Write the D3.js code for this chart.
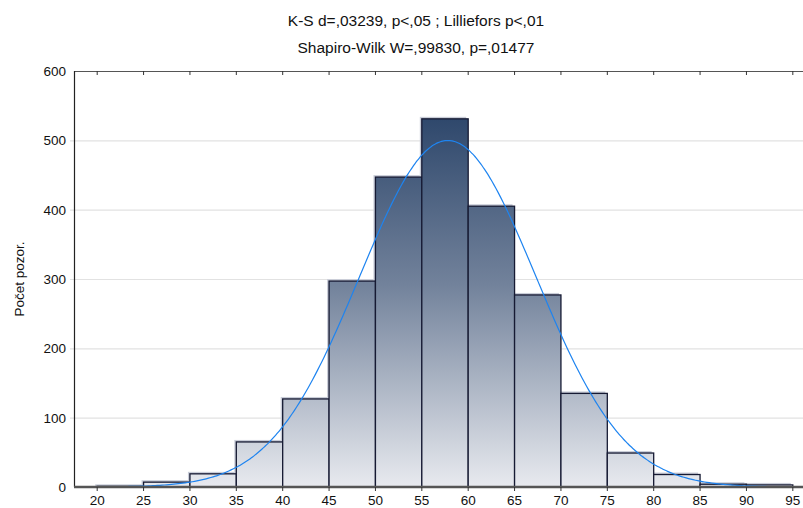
<!DOCTYPE html>
<html><head><meta charset="utf-8">
<script src="https://cdn.jsdelivr.net/npm/d3@7"></script>
<style>body{margin:0;background:#fff}svg{display:block;font-family:"Liberation Sans",Arial,sans-serif}</style>
</head><body><svg id="c" width="803" height="508"></svg>
<script>
const binStarts = [20,25,30,35,40,45,50,55,60,65,70,75,80,85,90];
const counts    = [1,7,19,65,127,297,447,531,405,277,135,49,18,4,3];
const binWidth = 5;
const xTicks = [20,25,30,35,40,45,50,55,60,65,70,75,80,85,90,95];
const yTicks = [0,100,200,300,400,500,600];
const fitMean = 57.8, fitSd = 9.52;
const titleLines = ["K-S d=,03239, p<,05 ; Lilliefors p<,01", "Shapiro-Wilk W=,99830, p=,01477"];
const yLabel = "Počet pozor.";

const svg = d3.select("#c");
const L = 74, T = 71, B = 487;
const x = d3.scaleLinear().domain([17.5, 97.5]).range([L, 816]);
const y = d3.scaleLinear().domain([0, 600]).range([B, T]);

const defs = svg.append("defs");
const g = defs.append("linearGradient").attr("id","bg").attr("gradientUnits","userSpaceOnUse")
  .attr("x1",0).attr("x2",0).attr("y1",y(531)).attr("y2",y(0));
g.append("stop").attr("offset","0").attr("stop-color","#2f486c");
g.append("stop").attr("offset","0.45").attr("stop-color","#72829b");
g.append("stop").attr("offset","1").attr("stop-color","#e8eaef");

// gridlines
svg.append("g").selectAll("line").data(yTicks.filter(d=>d>0 && d<600)).join("line")
  .attr("x1",L-4).attr("x2",803).attr("y1",d=>y(d)+0.5).attr("y2",d=>y(d)+0.5)
  .attr("stroke","#e2e2e2").attr("stroke-width",1.2);

// bars shadow
const bars = binStarts.map((s,i)=>({s, c:counts[i]}));
svg.append("g").selectAll("rect").data(bars).join("rect")
  .attr("x",d=>x(d.s)-2).attr("y",d=>y(d.c)-2)
  .attr("width",d=>x(d.s+binWidth)-x(d.s)).attr("height",d=>B-y(d.c)+2)
  .attr("fill","#c9cdd8");
svg.append("g").selectAll("rect").data(bars).join("rect")
  .attr("x",d=>x(d.s)).attr("y",d=>y(d.c))
  .attr("width",d=>x(d.s+binWidth)-x(d.s)).attr("height",d=>B-y(d.c))
  .attr("fill","url(#bg)").attr("stroke","#161a33").attr("stroke-width",1.3);

// normal curve
const N = d3.sum(counts);
const pdf = v => N*binWidth/(fitSd*Math.sqrt(2*Math.PI))*Math.exp(-0.5*((v-fitMean)/fitSd)**2);
const pts = d3.range(17.5, 97.6, 0.25);
svg.append("path").datum(pts)
  .attr("d", d3.line().x(d=>x(d)).y(d=>y(pdf(d))).curve(d3.curveMonotoneX))
  .attr("fill","none").attr("stroke","#1e84f0").attr("stroke-width",1.2);

// top border with ticks
svg.append("line").attr("x1",L).attr("x2",803).attr("y1",T+0.5).attr("y2",T+0.5).attr("stroke","#555").attr("stroke-width",1.2);
svg.append("g").selectAll("line").data(xTicks).join("line")
  .attr("x1",d=>x(d)).attr("x2",d=>x(d)).attr("y1",T).attr("y2",T+4).attr("stroke","#333");

// left axis
svg.append("line").attr("x1",L+0.5).attr("x2",L+0.5).attr("y1",T).attr("y2",B).attr("stroke","#222").attr("stroke-width",1.2);
svg.append("g").selectAll("text").data(yTicks).join("text")
  .attr("x",L-8).attr("y",d=>y(d)+5).attr("text-anchor","end")
  .attr("font-size",13.5).attr("fill","#111").text(d=>d);

// bottom axis
svg.append("line").attr("x1",L).attr("x2",803).attr("y1",B).attr("y2",B).attr("stroke","#555").attr("stroke-width",2.5);
svg.append("g").selectAll("line").data(xTicks).join("line")
  .attr("x1",d=>x(d)).attr("x2",d=>x(d)).attr("y1",B).attr("y2",B+4).attr("stroke","#333");
svg.append("g").selectAll("text").data(xTicks).join("text")
  .attr("x",d=>x(d)).attr("y",B+17.5).attr("text-anchor","middle")
  .attr("font-size",13.5).attr("fill","#111").text(d=>d);

// titles
svg.append("g").selectAll("text").data(titleLines).join("text")
  .attr("x",416).attr("y",(d,i)=>25.5+i*27).attr("text-anchor","middle")
  .attr("font-size",15.5).attr("fill","#111").text(d=>d);

svg.append("text").attr("transform","translate(24,279) rotate(-90)")
  .attr("text-anchor","middle").attr("font-size",13.5).attr("fill","#111").text(yLabel);
</script></body></html>
